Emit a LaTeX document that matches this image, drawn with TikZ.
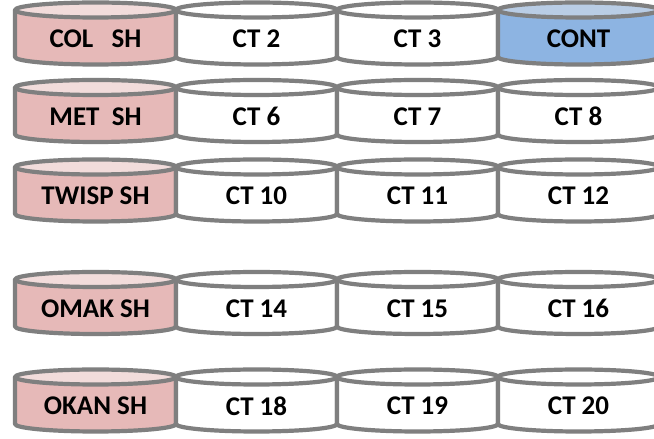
\documentclass[tikz,border=0pt]{standalone}
\usepackage{fontspec}
\setmainfont{Carlito}
\definecolor{edgegray}{HTML}{7F7F7F}
\definecolor{pinkbody}{HTML}{E6B9B8}
\definecolor{pinktop}{HTML}{F2DCDB}
\definecolor{bluebody}{HTML}{8DB4E2}
\definecolor{bluetop}{HTML}{B9CDE5}
\tikzset{
  cylline/.style={draw=edgegray, line width=4.2pt, line join=round},
  cyltext/.style={font=\bfseries\fontsize{27}{30}\selectfont, text=black, inner sep=0pt}
}
\newcommand\cylbox[6]{% name, left x, top-centre y, body colour, top colour, text
  \fill[#4] (#2,#3) -- ++(0,-47) arc[start angle=180,end angle=360,x radius=80.5,y radius=7.5] -- ++(0,47) -- cycle;
  \draw[cylline] (#2,#3) -- ++(0,-47) arc[start angle=180,end angle=360,x radius=80.5,y radius=7.5] -- ++(0,47);
  \draw[cylline, fill=#5] (#2+80.5,#3) ellipse[x radius=80.5,y radius=7.5];
  \node[cyltext] (#1) at (#2+80.5,#3-29) {#6};
}
\begin{document}
\begin{tikzpicture}[x=1pt,y=1pt]
\useasboundingbox (0,0) rectangle (654,439);
\fill[white] (0,0) rectangle (654,439);
% row 1
\cylbox{colsh}{15}{429}{pinkbody}{pinktop}{COL\ \ \ SH}
\cylbox{ct2}{176}{429}{white}{white}{CT 2}
\cylbox{ct3}{337}{429}{white}{white}{CT 3}
\cylbox{cont}{498}{429}{bluebody}{bluetop}{CONT}
% row 2
\cylbox{metsh}{15}{351.5}{pinkbody}{pinktop}{MET\ \ SH}
\cylbox{ct6}{176}{351.5}{white}{white}{CT 6}
\cylbox{ct7}{337}{351.5}{white}{white}{CT 7}
\cylbox{ct8}{498}{351.5}{white}{white}{CT 8}
% row 3
\cylbox{twispsh}{15}{272}{pinkbody}{pinktop}{TWISP SH}
\cylbox{ct10}{176}{272}{white}{white}{CT 10}
\cylbox{ct11}{337}{272}{white}{white}{CT 11}
\cylbox{ct12}{498}{272}{white}{white}{CT 12}
% row 4
\cylbox{omaksh}{15}{159.5}{pinkbody}{pinktop}{OMAK SH}
\cylbox{ct14}{176}{159.5}{white}{white}{CT 14}
\cylbox{ct15}{337}{159.5}{white}{white}{CT 15}
\cylbox{ct16}{498}{159.5}{white}{white}{CT 16}
% row 5
\cylbox{okansh}{15}{62}{pinkbody}{pinktop}{OKAN SH}
\cylbox{ct18}{176}{62}{white}{white}{CT 18}
\cylbox{ct19}{337}{62}{white}{white}{CT 19}
\cylbox{ct20}{498}{62}{white}{white}{CT 20}
\end{tikzpicture}
\end{document}
